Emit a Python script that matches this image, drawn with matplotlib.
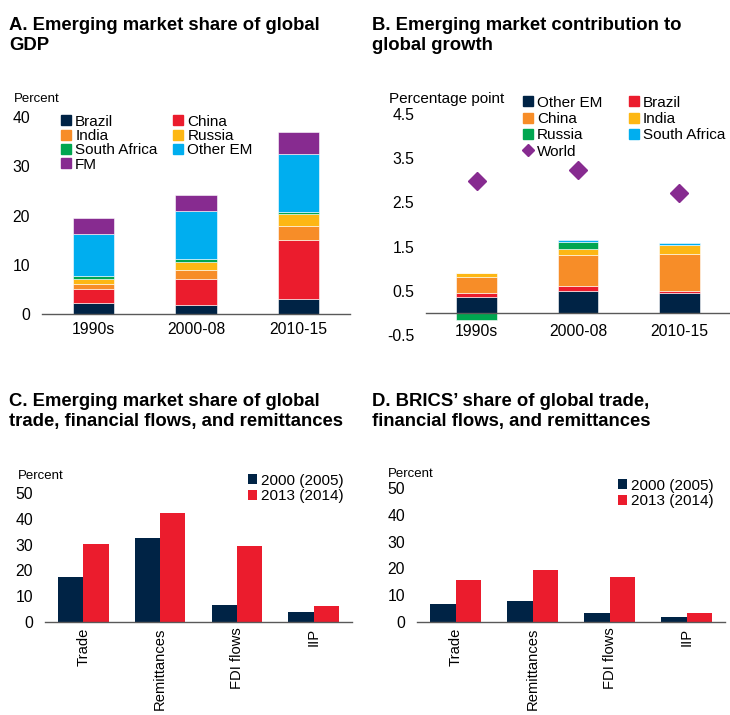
import numpy as np
import matplotlib
matplotlib.use("Agg")
import matplotlib.pyplot as plt
from matplotlib.lines import Line2D

plt.rcParams['font.family'] = ['Liberation Sans', 'DejaVu Sans']

# colours
NAVY = '#002345'
RED = '#EB1C2D'
ORANGE = '#F78D28'
YELLOW = '#FDB714'
GREEN = '#00A650'
CYAN = '#00AEEF'
PURPLE = '#872B90'

# panel A data (percent of global GDP)
periods = ['1990s', '2000-08', '2010-15']
gdp_brazil = [2.2, 1.9, 3.1]
gdp_china = [2.9, 5.3, 12.0]
gdp_india = [1.0, 1.8, 2.7]
gdp_russia = [1.0, 1.6, 2.5]
gdp_safrica = [0.6, 0.5, 0.5]
gdp_other_em = [8.6, 9.9, 11.7]
gdp_fm = [3.2, 3.2, 4.4]

# panel B data (percentage point)
gr_other_em = [0.36, 0.50, 0.45]
gr_brazil = [0.09, 0.11, 0.05]
gr_china = [0.37, 0.69, 0.84]
gr_india = [0.09, 0.15, 0.19]
gr_russia = [-0.17, 0.15, 0.01]
gr_safrica = [0.0, 0.04, 0.04]
gr_world = [2.98, 3.24, 2.71]

# panels C and D data (percent)
flows = ['Trade', 'Remittances', 'FDI flows', 'IIP']
em_2000 = [17.5, 32.4, 6.4, 3.9]
em_2013 = [30.1, 42.2, 29.3, 6.3]
brics_2000 = [6.6, 7.7, 3.3, 1.9]
brics_2013 = [15.6, 19.3, 16.8, 3.3]

W, H = 730, 715
fig = plt.figure(figsize=(W / 100, H / 100), dpi=100)

TFS = 13.3   # title size
TK = 11.3    # tick labels
LG = 11.0    # legend


def px_axes(left, top, right, bottom):
    return fig.add_axes([left / W, 1 - bottom / H, (right - left) / W, (bottom - top) / H])


def style(ax):
    for s in ['left', 'right', 'top']:
        ax.spines[s].set_visible(False)
    ax.spines['bottom'].set_color('#595959')
    ax.spines['bottom'].set_linewidth(1.0)
    ax.tick_params(axis='both', length=0, labelsize=TK, colors='black')
    ax.tick_params(axis='y', pad=8.5)


def sq(color, label):
    return Line2D([], [], marker='s', color=color, linestyle='none',
                  markersize=7, label=label)


def title(xp, yp, txt):
    fig.text(xp / W, 1 - yp / H, txt, fontsize=TFS, fontweight='bold',
             va='top', linespacing=1.2)


# ---- A ----
title(9, 17, 'A. Emerging market share of global\nGDP')
axA = px_axes(42, 117, 350, 314)
x = np.arange(len(periods))
bottom = np.zeros(3)
for vals, col in [(gdp_brazil, NAVY), (gdp_china, RED), (gdp_india, ORANGE),
                  (gdp_russia, YELLOW), (gdp_safrica, GREEN),
                  (gdp_other_em, CYAN), (gdp_fm, PURPLE)]:
    axA.bar(x, vals, 0.4, bottom=bottom, color=col, edgecolor='white', linewidth=0.4)
    bottom += np.array(vals)
axA.set_xlim(-0.5, 2.5)
axA.set_ylim(0, 40)
axA.set_yticks([0, 10, 20, 30, 40])
axA.set_xticks(x, periods)
style(axA)
axA.tick_params(axis='x', pad=6)
fig.text(14 / W, 1 - 102 / H, 'Percent', fontsize=9.5)
# ordered so that the two-column legend reads row by row
handlesA = [sq(NAVY, 'Brazil'), sq(ORANGE, 'India'), sq(GREEN, 'South Africa'),
            sq(PURPLE, 'FM'), sq(RED, 'China'), sq(YELLOW, 'Russia'),
            sq(CYAN, 'Other EM')]
axA.legend(handles=handlesA, ncol=2, loc='upper left',
           bbox_to_anchor=(53 / W, 1 - 107 / H), bbox_transform=fig.transFigure,
           frameon=False, fontsize=LG, handlelength=0.7, handletextpad=0.25,
           labelspacing=0.02, columnspacing=1.0, borderpad=0)

# ---- B ----
title(372, 17, 'B. Emerging market contribution to\nglobal growth')
axB = px_axes(426, 114, 730, 335)
pos = np.zeros(3)
neg = np.zeros(3)
for vals, col in [(gr_other_em, NAVY), (gr_brazil, RED), (gr_china, ORANGE),
                  (gr_india, YELLOW), (gr_russia, GREEN), (gr_safrica, CYAN)]:
    v = np.array(vals)
    b = np.where(v >= 0, pos, neg)
    axB.bar(x, v, 0.4, bottom=b, color=col, edgecolor='white', linewidth=0.4)
    pos += np.where(v >= 0, v, 0)
    neg += np.where(v < 0, v, 0)
axB.plot(x, gr_world, linestyle='none', marker='D', color=PURPLE, markersize=9)
axB.set_xlim(-0.5, 2.5)
axB.set_ylim(-0.5, 4.5)
axB.set_yticks([-0.5, 0.5, 1.5, 2.5, 3.5, 4.5])
axB.set_yticklabels(['-0.5', '0.5', '1.5', '2.5', '3.5', '4.5'])
axB.set_xticks(x, periods)
style(axB)
axB.spines['bottom'].set_position(('data', 0))
axB.tick_params(axis='x', pad=8)
fig.text(389 / W, 1 - 103 / H, 'Percentage point', fontsize=LG)
handlesB = [sq(NAVY, 'Other EM'), sq(ORANGE, 'China'), sq(GREEN, 'Russia'),
            Line2D([], [], marker='D', color=PURPLE, linestyle='none',
                   markersize=6, label='World'),
            sq(RED, 'Brazil'), sq(YELLOW, 'India'), sq(CYAN, 'South Africa')]
axB.legend(handles=handlesB, ncol=2, loc='upper left',
           bbox_to_anchor=(515 / W, 1 - 88 / H), bbox_transform=fig.transFigure,
           frameon=False, fontsize=LG, handlelength=0.7, handletextpad=0.25,
           labelspacing=0.15, columnspacing=1.7, borderpad=0)

# ---- C and D ----
xc = np.arange(len(flows))
bw = 0.33


def flow_panel(rect, v0, v1, txt, title_x, pct_xy, leg_xy):
    title(title_x, 393, txt)
    ax = px_axes(*rect)
    ax.bar(xc - bw / 2, v0, bw, color=NAVY, label='2000 (2005)')
    ax.bar(xc + bw / 2, v1, bw, color=RED, label='2013 (2014)')
    ax.set_xlim(-0.5, 3.5)
    ax.set_ylim(0, 50)
    ax.set_yticks([0, 10, 20, 30, 40, 50])
    ax.set_xticks(xc, flows, rotation=90)
    style(ax)
    ax.tick_params(axis='x', pad=4, labelsize=10.6)
    fig.text(pct_xy[0] / W, 1 - pct_xy[1] / H, 'Percent', fontsize=9.5)
    ax.legend(loc='upper left', bbox_to_anchor=(leg_xy[0] / W, 1 - leg_xy[1] / H),
              bbox_transform=fig.transFigure, frameon=False, fontsize=LG,
              handlelength=0.6, handleheight=0.6, handletextpad=0.25,
              labelspacing=0.1, borderpad=0)
    return ax


flow_panel((45, 493, 352, 622), em_2000, em_2013,
           'C. Emerging market share of global\ntrade, financial flows, and remittances',
           9, (18, 479), (240, 466))
flow_panel((417, 488, 725, 622), brics_2000, brics_2013,
           'D. BRICS\u2019 share of global trade,\nfinancial flows, and remittances',
           372, (388, 477), (610, 471))

fig.savefig('out.png', dpi=100)
